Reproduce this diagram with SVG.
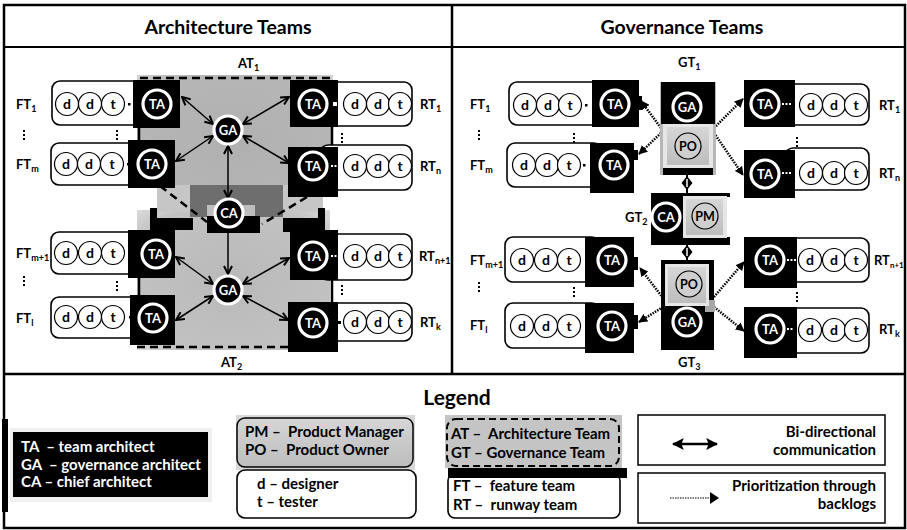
<svg xmlns="http://www.w3.org/2000/svg" width="907" height="530" viewBox="0 0 907 530">
  <style>
    text { font-family: Lato, "Open Sans", "Liberation Sans", sans-serif; fill: #000; }
    .hdr { font-size: 19.5px; font-weight: bold; text-anchor: middle; }
    .lbl { font-size: 13px; font-weight: bold; }
    .sub { font-size: 9px; }
    .box { fill: #fff; stroke: #000; stroke-width: 1.6; }
    .mem { fill: #fff; stroke: #000; stroke-width: 1.2; }
    .memt { font-size: 14px; font-weight: bold; text-anchor: middle; }
    .blk { fill: #000; }
    .arc { fill: #000; stroke: #fff; stroke-width: 3.2; }
    .arct { font-size: 13px; font-weight: bold; fill: #fff; text-anchor: middle; }
    .pcir { fill: #cfcfcf; stroke: #000; stroke-width: 1.2; }
    .pt { font-size: 12.5px; font-weight: bold; text-anchor: middle; }
    .dots { fill: none; stroke: #000; stroke-width: 2; stroke-dasharray: 2 2; }
    .bi { fill: none; stroke: #000; stroke-width: 1.5; marker-start: url(#chev); marker-end: url(#chev); }
    .one { fill: none; stroke: #000; stroke-width: 1.5; marker-end: url(#chev); }
    .pri { fill: none; stroke: #000; stroke-width: 2.5; stroke-dasharray: 1.5 1.2; marker-end: url(#tri); }
    .dash { fill: none; stroke: #000; stroke-width: 2.5; stroke-dasharray: 8 5; }
    .leg { font-size: 15px; font-weight: bold; }
    .legw { font-size: 15px; font-weight: bold; fill: #fff; }
  </style>
  <defs>
    <marker id="chev" viewBox="0 0 10 10" refX="9" refY="5" markerWidth="10" markerHeight="10" markerUnits="userSpaceOnUse" orient="auto-start-reverse">
      <path d="M1,1 L9,5 L1,9" fill="none" stroke="#000" stroke-width="2"/>
    </marker>
    <marker id="tri" viewBox="0 0 10 10" refX="9" refY="5" markerWidth="9" markerHeight="9" markerUnits="userSpaceOnUse" orient="auto">
      <path d="M0,0 L10,5 L0,10 Z" fill="#000"/>
    </marker>
    <marker id="triL" viewBox="0 0 10 10" refX="9" refY="5" markerWidth="12" markerHeight="12" markerUnits="userSpaceOnUse" orient="auto-start-reverse">
      <path d="M0,0 L10,5 L0,10 L2,5 Z" fill="#000"/>
    </marker>
    <linearGradient id="gGray" x1="0" y1="0" x2="0" y2="1">
      <stop offset="0" stop-color="#d6d6d6"/>
      <stop offset="1" stop-color="#bdbdbd"/>
    </linearGradient>
    <radialGradient id="gAT1" cx="0.5" cy="0.5" r="0.7">
      <stop offset="0" stop-color="#b0b0b0"/>
      <stop offset="0.8" stop-color="#b6b6b6"/>
      <stop offset="1" stop-color="#d2d2d2"/>
    </radialGradient>
    <radialGradient id="gAT2" cx="0.5" cy="0.5" r="0.7">
      <stop offset="0" stop-color="#b9b9b9"/>
      <stop offset="0.8" stop-color="#c2c2c2"/>
      <stop offset="1" stop-color="#dadada"/>
    </radialGradient>
  </defs>

  <!-- frame -->
  <g id="frame" fill="none" stroke="#000">
    <rect x="4" y="5" width="901" height="523" stroke-width="2.5"/>
    <line x1="4" y1="47" x2="905" y2="47" stroke-width="2"/>
    <line x1="452" y1="5" x2="452" y2="374" stroke-width="2.5"/>
    <line x1="4" y1="374" x2="905" y2="374" stroke-width="2.5"/>
  </g>
  <text class="hdr" x="228" y="34">Architecture Teams</text>
  <text class="hdr" x="682" y="34">Governance Teams</text>

  <!-- architecture team areas -->
  <g id="at1">
    <path d="M137,75 H333 V185 H323 V212 H157 V185 H137 Z" fill="url(#gAT1)"/>
    <text class="lbl" x="238" y="68">AT<tspan class="sub" dy="3">1</tspan></text>
  </g>
  <g id="at2">
    <rect x="137" y="210" width="193" height="140" fill="url(#gAT2)"/>
    <rect x="157" y="185" width="166" height="27" fill="#c6c6c6"/>
    <rect x="190" y="185" width="93" height="32" fill="#6e6e6e"/>
    <rect x="207" y="205" width="48" height="12" fill="#bdbdbd"/>
    <rect x="207" y="216" width="53" height="17" class="blk"/>
    <rect x="150" y="208" width="7" height="12" class="blk"/>
    <rect x="150" y="218" width="43" height="12" class="blk"/>
    <rect x="283" y="218" width="42" height="14" class="blk"/>
    <rect x="318" y="208" width="7" height="12" class="blk"/>
    <text class="lbl" x="221" y="367">AT<tspan class="sub" dy="3">2</tspan></text>
  </g>
  <g id="at-borders">
    <line class="dash" x1="140" y1="78" x2="333" y2="78"/>
    <line class="dash" x1="160" y1="186" x2="207" y2="222"/>
    <line class="dash" x1="307" y1="197" x2="262" y2="224"/>
    <line class="dash" x1="137" y1="347" x2="290" y2="347"/>
    <g stroke="#000" stroke-width="2.5">
      <line x1="139" y1="128" x2="139" y2="142"/>
      <line x1="332" y1="127" x2="332" y2="147"/>
      <line x1="139" y1="278" x2="139" y2="295"/>
      <line x1="332" y1="280" x2="332" y2="302"/>
    </g>
  </g>

  <!-- connectors -->
  <g id="connectors">
    <line class="bi" x1="182" y1="97" x2="213" y2="124"/>
    <line class="bi" x1="176" y1="161" x2="213" y2="136"/>
    <line class="bi" x1="289" y1="97" x2="243" y2="124"/>
    <line class="bi" x1="289" y1="163" x2="243" y2="136"/>
    <line class="bi" x1="228" y1="146" x2="228" y2="198"/>
    <line class="one" x1="228" y1="233" x2="228" y2="274"/>
    <line class="bi" x1="176" y1="257" x2="213" y2="284"/>
    <line class="bi" x1="176" y1="320" x2="213" y2="296"/>
    <line class="bi" x1="289" y1="258" x2="243" y2="284"/>
    <line class="bi" x1="288" y1="320" x2="243" y2="296"/>

    <line class="pri" x1="661" y1="128" x2="641" y2="101"/>
    <line class="pri" x1="661" y1="133" x2="639" y2="154"/>
    <line class="pri" x1="714" y1="128" x2="743" y2="99"/>
    <line class="pri" x1="714" y1="133" x2="743" y2="175"/>
    <line class="pri" x1="663" y1="298" x2="640" y2="268"/>
    <line class="pri" x1="663" y1="307" x2="639" y2="322"/>
    <line class="pri" x1="714" y1="297" x2="744" y2="262"/>
    <line class="pri" x1="714" y1="307" x2="744" y2="331"/>

    <line x1="687" y1="175" x2="687" y2="193" stroke="#000" stroke-width="2"/>
    <path d="M687,176 L692.5,183 L687,190 L681.5,183 Z" fill="#000"/>
    <line x1="687" y1="179" x2="687" y2="187" stroke="#fff" stroke-width="1.5"/>
    <line x1="687" y1="244" x2="687" y2="260" stroke="#000" stroke-width="2"/>
    <path d="M687,245 L692.5,252 L687,259 L681.5,252 Z" fill="#000"/>
    <line x1="687" y1="248" x2="687" y2="256" stroke="#fff" stroke-width="1.5"/>
  </g>

  <!-- architecture panel: feature teams -->
  <g id="a-ft1">
    <text class="lbl" x="16" y="109">FT<tspan class="sub" dy="3">1</tspan></text>
    <rect class="box" x="52" y="81" width="100" height="44" rx="8"/>
    <circle class="mem" cx="67" cy="104" r="11.5"/><text class="memt" x="67" y="109">d</text>
    <circle class="mem" cx="90" cy="104" r="11.5"/><text class="memt" x="90" y="109">d</text>
    <circle class="mem" cx="113" cy="104" r="11.5"/><text class="memt" x="113" y="109">t</text>
    <rect class="blk" x="128" y="103" width="2.5" height="2.5"/>
    <rect class="blk" x="133" y="80" width="47" height="48"/>
    <circle class="arc" cx="157" cy="104" r="14"/><text class="arct" x="157" y="108.5">TA</text>
  </g>
  <g id="a-ftm">
    <text class="lbl" x="16" y="169">FT<tspan class="sub" dy="3">m</tspan></text>
    <rect class="box" x="51" y="143" width="95" height="42" rx="8"/>
    <circle class="mem" cx="66" cy="164" r="11.5"/><text class="memt" x="66" y="169">d</text>
    <circle class="mem" cx="89" cy="164" r="11.5"/><text class="memt" x="89" y="169">d</text>
    <circle class="mem" cx="112" cy="164" r="11.5"/><text class="memt" x="112" y="169">t</text>
    <rect class="blk" x="127" y="163" width="2.5" height="2.5"/>
    <rect class="blk" x="128" y="140" width="47" height="48"/>
    <circle class="arc" cx="152" cy="164" r="14"/><text class="arct" x="152" y="168.5">TA</text>
  </g>
  <g id="a-ftm1">
    <text class="lbl" x="16" y="258">FT<tspan class="sub" dy="3">m+1</tspan></text>
    <rect class="box" x="51" y="232" width="95" height="42" rx="8"/>
    <circle class="mem" cx="66" cy="253" r="11.5"/><text class="memt" x="66" y="258">d</text>
    <circle class="mem" cx="90" cy="253" r="11.5"/><text class="memt" x="90" y="258">d</text>
    <circle class="mem" cx="113" cy="253" r="11.5"/><text class="memt" x="113" y="258">t</text>
    <rect class="blk" x="128" y="230" width="47" height="48"/>
    <circle class="arc" cx="156" cy="254" r="14"/><text class="arct" x="156" y="258.5">TA</text>
  </g>
  <g id="a-ftl">
    <text class="lbl" x="16" y="323">FT<tspan class="sub" dy="3">l</tspan></text>
    <rect class="box" x="51" y="297" width="95" height="41" rx="8"/>
    <circle class="mem" cx="66" cy="317" r="11.5"/><text class="memt" x="66" y="322">d</text>
    <circle class="mem" cx="90" cy="317" r="11.5"/><text class="memt" x="90" y="322">d</text>
    <circle class="mem" cx="113" cy="317" r="11.5"/><text class="memt" x="113" y="322">t</text>
    <rect class="blk" x="129" y="316" width="2.5" height="2.5"/>
    <rect class="blk" x="130" y="295" width="45" height="50"/>
    <circle class="arc" cx="153" cy="318" r="14"/><text class="arct" x="153" y="322.5">TA</text>
  </g>

  <!-- architecture panel: runway teams -->
  <g id="a-rt1">
    <rect class="box" x="320" y="82" width="92" height="44" rx="8"/>
    <circle class="mem" cx="355" cy="104" r="11.5"/><text class="memt" x="355" y="109">d</text>
    <circle class="mem" cx="378" cy="104" r="11.5"/><text class="memt" x="378" y="109">d</text>
    <circle class="mem" cx="400" cy="104" r="11.5"/><text class="memt" x="400" y="109">t</text>
    <rect class="blk" x="290" y="80" width="48" height="47"/>
    <rect x="333" y="102" width="4" height="4" fill="#fff"/>
    <circle class="arc" cx="313" cy="104" r="14"/><text class="arct" x="313" y="108.5">TA</text>
    <text class="lbl" x="420" y="109">RT<tspan class="sub" dy="3">1</tspan></text>
  </g>
  <g id="a-rtn">
    <rect class="box" x="320" y="145" width="92" height="45" rx="8"/>
    <circle class="mem" cx="355" cy="166" r="11.5"/><text class="memt" x="355" y="171">d</text>
    <circle class="mem" cx="378" cy="166" r="11.5"/><text class="memt" x="378" y="171">d</text>
    <circle class="mem" cx="400" cy="166" r="11.5"/><text class="memt" x="400" y="171">t</text>
    <rect class="blk" x="288" y="147" width="50" height="50"/>
    <line x1="331" y1="166" x2="342" y2="166" stroke="#fff" stroke-width="2" stroke-dasharray="2 1.5"/>
    <circle class="arc" cx="313" cy="166" r="14"/><text class="arct" x="313" y="170.5">TA</text>
    <text class="lbl" x="420" y="171">RT<tspan class="sub" dy="3">n</tspan></text>
  </g>
  <g id="a-rtn1">
    <rect class="box" x="320" y="234" width="92" height="46" rx="8"/>
    <circle class="mem" cx="355" cy="256" r="11.5"/><text class="memt" x="355" y="261">d</text>
    <circle class="mem" cx="378" cy="256" r="11.5"/><text class="memt" x="378" y="261">d</text>
    <circle class="mem" cx="400" cy="256" r="11.5"/><text class="memt" x="400" y="261">t</text>
    <rect class="blk" x="290" y="230" width="48" height="50"/>
    <line x1="331" y1="256" x2="338" y2="256" stroke="#fff" stroke-width="2" stroke-dasharray="2 1.5"/>
    <circle class="arc" cx="313" cy="256" r="14"/><text class="arct" x="313" y="260.5">TA</text>
    <text class="lbl" x="419" y="261">RT<tspan class="sub" dy="3">n+1</tspan></text>
  </g>
  <g id="a-rtk">
    <rect class="box" x="320" y="303" width="92" height="38" rx="8"/>
    <circle class="mem" cx="355" cy="322" r="11.5"/><text class="memt" x="355" y="327">d</text>
    <circle class="mem" cx="378" cy="322" r="11.5"/><text class="memt" x="378" y="327">d</text>
    <circle class="mem" cx="400" cy="322" r="11.5"/><text class="memt" x="400" y="327">t</text>
    <rect class="blk" x="288" y="302" width="50" height="50"/>
    <rect x="338" y="321" width="3" height="3" fill="#000"/>
    <circle class="arc" cx="313" cy="323" r="14"/><text class="arct" x="313" y="327.5">TA</text>
    <text class="lbl" x="420" y="327">RT<tspan class="sub" dy="3">k</tspan></text>
  </g>

  <!-- architecture panel: central architects -->
  <g id="a-ga1">
    <circle class="arc" cx="228" cy="130" r="14"/><text class="arct" x="228" y="134.5">GA</text>
  </g>
  <g id="a-ca">
    <circle class="arc" cx="229" cy="213" r="14"/><text class="arct" x="229" y="217.5">CA</text>
  </g>
  <g id="a-ga2">
    <circle class="arc" cx="228" cy="290" r="14"/><text class="arct" x="228" y="294.5">GA</text>
  </g>
  <g id="a-dots">
    <line class="dots" x1="24" y1="130" x2="24" y2="142"/>
    <line class="dots" x1="117" y1="130" x2="117" y2="142"/>
    <line class="dots" x1="342" y1="133" x2="342" y2="145"/>
    <line class="dots" x1="24" y1="276" x2="24" y2="288"/>
    <line class="dots" x1="117" y1="281" x2="117" y2="293"/>
    <line class="dots" x1="342" y1="285" x2="342" y2="297"/>
  </g>

  <!-- governance panel: feature teams -->
  <g id="g-ft1">
    <text class="lbl" x="470" y="109">FT<tspan class="sub" dy="3">1</tspan></text>
    <rect class="box" x="509" y="82" width="95" height="43" rx="8"/>
    <circle class="mem" cx="525" cy="105" r="11.5"/><text class="memt" x="525" y="110">d</text>
    <circle class="mem" cx="548" cy="105" r="11.5"/><text class="memt" x="548" y="110">d</text>
    <circle class="mem" cx="570" cy="105" r="11.5"/><text class="memt" x="570" y="110">t</text>
    <rect class="blk" x="585" y="104" width="2.5" height="2.5"/>
    <rect class="blk" x="592" y="80" width="47" height="47"/>
    <rect class="blk" x="636" y="96" width="6" height="14"/>
    <circle class="arc" cx="615" cy="104" r="14"/><text class="arct" x="615" y="108.5">TA</text>
  </g>
  <g id="g-ftm">
    <text class="lbl" x="470" y="170">FT<tspan class="sub" dy="3">m</tspan></text>
    <rect class="box" x="507" y="143" width="95" height="44" rx="8"/>
    <circle class="mem" cx="524" cy="165" r="11.5"/><text class="memt" x="524" y="170">d</text>
    <circle class="mem" cx="547" cy="165" r="11.5"/><text class="memt" x="547" y="170">d</text>
    <circle class="mem" cx="569" cy="165" r="11.5"/><text class="memt" x="569" y="170">t</text>
    <rect class="blk" x="583" y="164" width="2.5" height="2.5"/>
    <rect class="blk" x="590" y="143" width="44" height="50"/>
    <rect class="blk" x="632" y="150" width="6" height="10"/>
    <circle class="arc" cx="614" cy="165" r="14"/><text class="arct" x="614" y="169.5">TA</text>
  </g>
  <g id="g-ftm1">
    <text class="lbl" x="470" y="265">FT<tspan class="sub" dy="3">m+1</tspan></text>
    <rect class="box" x="505" y="237" width="95" height="45" rx="8"/>
    <circle class="mem" cx="522" cy="260" r="11.5"/><text class="memt" x="522" y="265">d</text>
    <circle class="mem" cx="546" cy="260" r="11.5"/><text class="memt" x="546" y="265">d</text>
    <circle class="mem" cx="569" cy="260" r="11.5"/><text class="memt" x="569" y="265">t</text>
    <rect class="blk" x="585" y="237" width="49" height="50"/>
    <rect class="blk" x="632" y="257" width="6" height="13"/>
    <circle class="arc" cx="612" cy="260" r="14"/><text class="arct" x="612" y="264.5">TA</text>
  </g>
  <g id="g-ftl">
    <text class="lbl" x="470" y="330">FT<tspan class="sub" dy="3">l</tspan></text>
    <rect class="box" x="505" y="303" width="95" height="45" rx="8"/>
    <circle class="mem" cx="522" cy="326" r="11.5"/><text class="memt" x="522" y="331">d</text>
    <circle class="mem" cx="546" cy="326" r="11.5"/><text class="memt" x="546" y="331">d</text>
    <circle class="mem" cx="569" cy="326" r="11.5"/><text class="memt" x="569" y="331">t</text>
    <rect class="blk" x="585" y="303" width="49" height="50"/>
    <rect class="blk" x="632" y="315" width="6" height="14"/>
    <circle class="arc" cx="612" cy="326" r="14"/><text class="arct" x="612" y="330.5">TA</text>
  </g>

  <!-- governance panel: runway teams -->
  <g id="g-rt1">
    <rect class="box" x="785" y="84" width="84" height="41" rx="8"/>
    <circle class="mem" cx="811" cy="105" r="11.5"/><text class="memt" x="811" y="110">d</text>
    <circle class="mem" cx="834" cy="105" r="11.5"/><text class="memt" x="834" y="110">d</text>
    <circle class="mem" cx="856" cy="105" r="11.5"/><text class="memt" x="856" y="110">t</text>
    <rect class="blk" x="744" y="80" width="51" height="47"/>
    <line x1="782" y1="104" x2="792" y2="104" stroke="#fff" stroke-width="2" stroke-dasharray="2 1.5"/>
    <circle class="arc" cx="765" cy="104" r="14"/><text class="arct" x="765" y="108.5">TA</text>
    <text class="lbl" x="879" y="110">RT<tspan class="sub" dy="3">1</tspan></text>
  </g>
  <g id="g-rtn">
    <rect class="box" x="785" y="148" width="84" height="42" rx="8"/>
    <circle class="mem" cx="811" cy="173" r="11.5"/><text class="memt" x="811" y="178">d</text>
    <circle class="mem" cx="834" cy="173" r="11.5"/><text class="memt" x="834" y="178">d</text>
    <circle class="mem" cx="856" cy="173" r="11.5"/><text class="memt" x="856" y="178">t</text>
    <rect class="blk" x="744" y="150" width="51" height="48"/>
    <line x1="782" y1="173" x2="792" y2="173" stroke="#fff" stroke-width="2" stroke-dasharray="2 1.5"/>
    <circle class="arc" cx="765" cy="174" r="14"/><text class="arct" x="765" y="178.5">TA</text>
    <text class="lbl" x="879" y="178">RT<tspan class="sub" dy="3">n</tspan></text>
  </g>
  <g id="g-rtn1">
    <rect class="box" x="785" y="238" width="84" height="44" rx="8"/>
    <circle class="mem" cx="810" cy="260" r="11.5"/><text class="memt" x="810" y="265">d</text>
    <circle class="mem" cx="834" cy="260" r="11.5"/><text class="memt" x="834" y="265">d</text>
    <circle class="mem" cx="856" cy="260" r="11.5"/><text class="memt" x="856" y="265">t</text>
    <rect class="blk" x="744" y="237" width="53" height="51"/>
    <line x1="787" y1="260" x2="797" y2="260" stroke="#fff" stroke-width="2" stroke-dasharray="2 1.5"/>
    <circle class="arc" cx="770" cy="260" r="14"/><text class="arct" x="770" y="264.5">TA</text>
    <text class="lbl" x="874" y="265" font-size="12.5">RT<tspan font-size="8" dy="3">n+1</tspan></text>
  </g>
  <g id="g-rtk">
    <rect class="box" x="785" y="308" width="84" height="45" rx="8"/>
    <circle class="mem" cx="810" cy="330" r="11.5"/><text class="memt" x="810" y="335">d</text>
    <circle class="mem" cx="834" cy="330" r="11.5"/><text class="memt" x="834" y="335">d</text>
    <circle class="mem" cx="856" cy="330" r="11.5"/><text class="memt" x="856" y="335">t</text>
    <rect class="blk" x="744" y="307" width="53" height="51"/>
    <line x1="787" y1="329" x2="794" y2="329" stroke="#fff" stroke-width="2" stroke-dasharray="2 1.5"/>
    <circle class="arc" cx="770" cy="329" r="14"/><text class="arct" x="770" y="333.5">TA</text>
    <text class="lbl" x="879" y="334">RT<tspan class="sub" dy="3">k</tspan></text>
  </g>
  <g id="g-dots">
    <line class="dots" x1="479" y1="130" x2="479" y2="142"/>
    <line class="dots" x1="574" y1="133" x2="574" y2="145"/>
    <line class="dots" x1="797" y1="137" x2="797" y2="149"/>
    <line class="dots" x1="479" y1="282" x2="479" y2="294"/>
    <line class="dots" x1="574" y1="287" x2="574" y2="299"/>
    <line class="dots" x1="797" y1="292" x2="797" y2="304"/>
  </g>

  <!-- governance teams -->
  <g id="gt1">
    <text class="lbl" x="678" y="67">GT<tspan class="sub" dy="3">1</tspan></text>
    <rect x="660" y="82" width="56" height="93" fill="#b8b8b8"/>
    <rect class="blk" x="661" y="82" width="54" height="42"/>
    <circle class="arc" cx="687" cy="107" r="14"/><text class="arct" x="687" y="111.5">GA</text>
    <rect x="663" y="124" width="50" height="44" fill="#e6e6e6"/>
    <rect x="667" y="127" width="42" height="38" fill="url(#gGray)"/>
    <circle class="pcir" cx="688" cy="146" r="13"/><text class="pt" x="688" y="150.5">PO</text>
    <rect class="blk" x="663" y="168" width="50" height="7"/>
  </g>
  <g id="gt2">
    <text class="lbl" x="625" y="222">GT<tspan class="sub" dy="3">2</tspan></text>
    <rect class="blk" x="651" y="193" width="48" height="52"/>
    <rect class="blk" x="699" y="193" width="31" height="4"/>
    <rect class="blk" x="699" y="237" width="31" height="8"/>
    <circle class="arc" cx="666" cy="217" r="14"/><text class="arct" x="666" y="221.5">CA</text>
    <rect x="683" y="196" width="44" height="42" fill="#e6e6e6"/>
    <rect x="686" y="199" width="37" height="36" fill="url(#gGray)"/>
    <circle class="pcir" cx="705" cy="216" r="13"/><text class="pt" x="705" y="220.5">PM</text>
  </g>
  <g id="gt3">
    <rect class="blk" x="661" y="260" width="53" height="90"/>
    <rect x="705" y="300" width="10" height="12" fill="#a8a8a8"/>
    <rect x="665" y="264" width="44" height="42" fill="#e6e6e6"/>
    <rect x="668" y="267" width="38" height="36" fill="url(#gGray)"/>
    <circle class="pcir" cx="689" cy="284" r="13"/><text class="pt" x="689" y="288.5">PO</text>
    <circle class="arc" cx="687" cy="322" r="14"/><text class="arct" x="687" y="326.5">GA</text>
    <text class="lbl" x="678" y="367">GT<tspan class="sub" dy="3">3</tspan></text>
  </g>

  <!-- legend -->
  <g id="legend">
    <text x="457" y="405" font-size="21" font-weight="bold" text-anchor="middle">Legend</text>
    <rect x="2" y="419" width="6" height="93" fill="#000"/>
  </g>
  <g id="leg-roles">
    <rect x="10" y="428" width="202" height="74" fill="#f0f0f0"/>
    <rect x="13" y="432" width="195" height="65" fill="#000"/>
    <text class="legw" x="21" y="452">TA&#160; – team architect</text>
    <text class="legw" x="21" y="470">GA&#160; – governance architect</text>
    <text class="legw" x="21" y="487">CA – chief architect</text>
  </g>
  <g id="leg-product">
    <rect x="236" y="415" width="179" height="55" fill="#d8d8d8"/>
    <rect x="237" y="418" width="176" height="49" rx="8" fill="url(#gGray)" stroke="#000" stroke-width="1.5"/>
    <text class="leg" x="245" y="437">PM –&#160; Product Manager</text>
    <text class="leg" x="245" y="455">PO –&#160; Product Owner</text>
  </g>
  <g id="leg-members">
    <rect x="237" y="470" width="179" height="48" rx="8" class="box"/>
    <text class="leg" x="257" y="489">d – designer</text>
    <text class="leg" x="257" y="507">t – tester</text>
  </g>
  <g id="leg-teams">
    <rect x="445" y="415" width="177" height="53" fill="#c4c4c4"/>
    <rect x="447" y="419" width="172" height="47" rx="9" fill="none" stroke="#000" stroke-width="2" stroke-dasharray="7 4"/>
    <text class="leg" x="451" y="439">AT –&#160; Architecture Team</text>
    <text class="leg" x="451" y="458">GT – Governance Team</text>
  </g>
  <g id="leg-feature">
    <rect x="448" y="474" width="172" height="44" rx="7" class="box"/>
    <rect x="448" y="468" width="179" height="10" fill="#000"/>
    <text class="leg" x="453" y="491">FT –&#160; feature team</text>
    <text class="leg" x="453" y="510">RT –&#160; runway team</text>
  </g>
  <g id="leg-bidir">
    <rect x="638" y="415" width="247" height="50" fill="#fff" stroke="#000" stroke-width="1.5"/>
    <line x1="673" y1="444" x2="717" y2="444" stroke="#000" stroke-width="2.5" marker-start="url(#triL)" marker-end="url(#triL)"/>
    <text class="leg" x="876" y="437" text-anchor="end">Bi-directional</text>
    <text class="leg" x="876" y="455" text-anchor="end">communication</text>
  </g>
  <g id="leg-prio">
    <rect x="638" y="473" width="247" height="50" fill="#fff" stroke="#000" stroke-width="1.5"/>
    <line x1="670" y1="498" x2="710" y2="498" stroke="#000" stroke-width="1.2" stroke-dasharray="1.5 1"/>
    <path d="M710,492 L719,498 L710,504 Z" fill="#000"/>
    <text class="leg" x="876" y="491" text-anchor="end">Prioritization through</text>
    <text class="leg" x="876" y="509" text-anchor="end">backlogs</text>
  </g>
</svg>
